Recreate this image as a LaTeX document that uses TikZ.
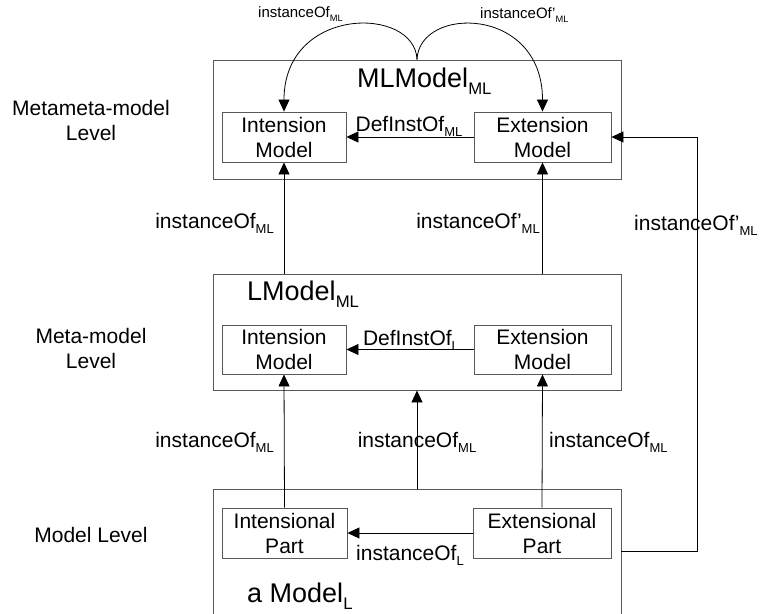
\documentclass[tikz,border=0pt]{standalone}
\usepackage{fontspec}
\setmainfont{Liberation Sans}
\usetikzlibrary{arrows.meta}
\newcommand{\lsub}[1]{\raisebox{-0.28em}{\scalebox{0.62}{#1}}}

\begin{document}
\begin{tikzpicture}[x=1pt,y=-1pt,
    box/.style={draw=black!65,line width=0.9pt,inner sep=0pt},
    part/.style={box,align=center,font=\fontsize{21}{25}\selectfont},
    lvl/.style={align=center,font=\fontsize{21}{25}\selectfont},
    ttl/.style={anchor=base west,inner sep=0pt,font=\fontsize{27}{30}\selectfont},
    lbl/.style={inner sep=0pt,font=\fontsize{21}{25}\selectfont},
    small/.style={inner sep=0pt,anchor=base west,font=\fontsize{15}{18}\selectfont},
    arr/.style={-{Triangle[length=12pt,width=11pt]},line width=0.8pt}]
    \useasboundingbox (0,0) rectangle (760,613);
    \clip (0,0) rectangle (760,613);
    % levels
    \node[lvl] (lv1) at (91,120) {Metameta-model\\Level};
    \node[lvl] (lv2) at (91,348) {Meta-model\\Level};
    \node[lvl] (lv3) at (91,535) {Model Level};
    % metameta-model
    \node[box,minimum width=408pt,minimum height=119pt] (mlbox) at (417,119.5) {};
    \node[ttl] (mlttl) at (357,87) {MLModel\lsub{ML}};
    \node[part,minimum width=124pt,minimum height=50pt] (mlint) at (284,137) {Intension\\Model};
    \node[part,minimum width=137pt,minimum height=50pt] (mlext) at (542.5,137) {Extension\\Model};
    % meta-model
    \node[box,minimum width=408pt,minimum height=116pt] (lbox) at (417,332) {};
    \node[ttl] (lttl) at (247,300) {LModel\lsub{ML}};
    \node[part,minimum width=124pt,minimum height=49pt] (lint) at (284,349.5) {Intension\\Model};
    \node[part,minimum width=137pt,minimum height=49pt] (lext) at (542.5,349.5) {Extension\\Model};
    % model
    \node[box,minimum width=408pt,minimum height=142pt] (mbox) at (417,560) {};
    \node[ttl] (mttl) at (247,602) {a Model\lsub{L}};
    \node[part,minimum width=125pt,minimum height=50pt] (mint) at (284.5,533) {Intensional\\Part};
    \node[part,minimum width=138pt,minimum height=50pt] (mext) at (542,533) {Extensional\\Part};

    % inside the boxes
    \draw[arr] (mlext) -- (mlint);
    \node[lbl,anchor=base] (dml) at (409,131) {DefInstOf\lsub{ML}};
    \draw[arr] (lext) -- (lint);
    \node[lbl,anchor=base] (dl) at (411,345) {DefInstOf\lsub{L}};
    \draw[arr] (mext) -- (mint);
    \node[lbl,anchor=base] (il) at (410,560) {instanceOf\lsub{L}};

    % top arcs
    \draw[arr] (mlbox.north) .. controls +(-2,-54) and +(0,-106) .. (mlint.north);
    \draw[arr] (mlbox.north) .. controls +(2,-54) and +(0,-106) .. (mlext.north);
    \node[small] (a1) at (258,17) {instanceOf\lsub{ML}};
    \node[small] (a2) at (480,18) {instanceOf'\lsub{ML}};

    % between levels
    \draw[arr] (mlint.south |- lbox.north) -- (mlint.south);
    \draw[arr] (mlext.south |- lbox.north) -- (mlext.south);
    \node[lbl,anchor=base east] (u1) at (274,228) {instanceOf\lsub{ML}};
    \node[lbl,anchor=base east] (u2) at (540,228) {instanceOf'\lsub{ML}};
    \draw[arr] (mint.north) -- (lint.south);
    \draw[arr] (mbox.north) -- (lbox.south);
    \draw[arr] (mext.north) -- (lext.south);
    \node[lbl,anchor=base east] (d1) at (274,447) {instanceOf\lsub{ML}};
    \node[lbl,anchor=base] (d2) at (417,447) {instanceOf\lsub{ML}};
    \node[lbl,anchor=base west] (d3) at (549,447) {instanceOf\lsub{ML}};

    % long way round on the right
    \coordinate (rbot) at (697,551);
    \draw[arr] (rbot -| mbox.east) -- (rbot) |- (mlext.east);
    \node[lbl,anchor=base west] (r1) at (634,230) {instanceOf'\lsub{ML}};
\end{tikzpicture}
\end{document}
